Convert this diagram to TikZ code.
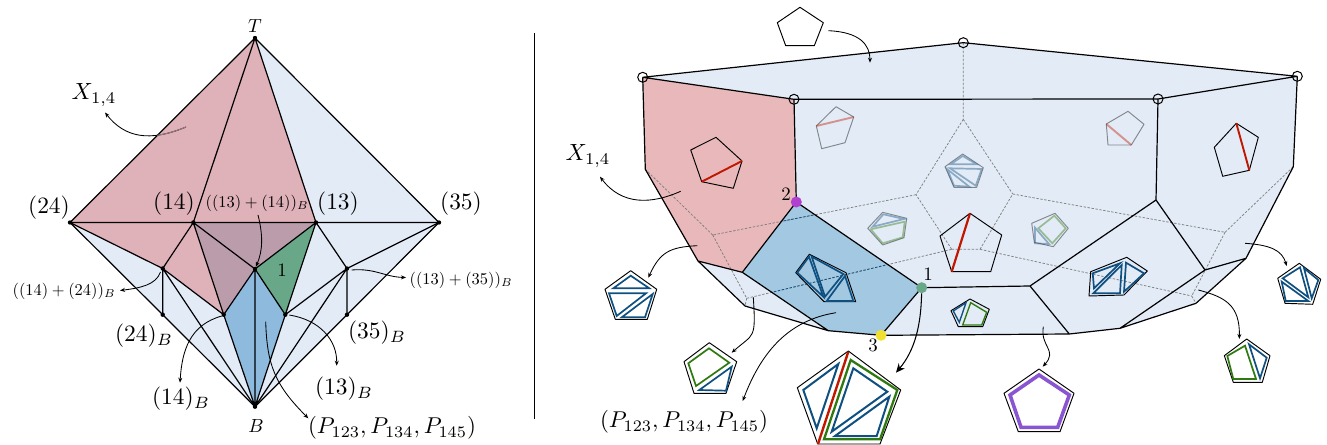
\documentclass[tikz,border=0pt]{standalone}
\usetikzlibrary{arrows.meta}
\definecolor{paleb}{HTML}{E3EBF6}
\definecolor{pinkL}{HTML}{DFB1B8}
\definecolor{mauve}{HTML}{BB9CAB}
\definecolor{greenL}{HTML}{68A888}
\definecolor{blueL}{HTML}{8DBADD}
\definecolor{pinkR}{HTML}{E9B8BA}
\definecolor{blueR}{HTML}{A3C8E2}
\definecolor{tblue}{HTML}{0F5080}
\definecolor{tgreen}{HTML}{2F7A10}
\definecolor{tred}{HTML}{C01800}
\definecolor{tpurp}{HTML}{8A55D0}
\definecolor{dotp}{HTML}{B040D0}
\definecolor{doty}{HTML}{F0E030}
\tikzset{
  edge/.style={line width=1.2bp,black,line join=round},
  back/.style={line width=0.75bp,dashed,dash pattern=on 2.4bp off 1.6bp,black!50},
  dot/.style={circle,fill=black,inner sep=0pt,minimum size=4.4bp},
  ring/.style={circle,draw=black,line width=1bp,fill=none,inner sep=0pt,minimum size=10bp},
  cdot/.style={circle,inner sep=0pt,minimum size=11bp},
  lab/.style={inner sep=0pt,scale=2.35},
  labp/.style={inner sep=0pt,scale=2.3},
  labm/.style={inner sep=0pt,scale=1.65},
  labs/.style={inner sep=0pt,scale=1.9},
  callout/.style={line width=0.85bp,-{Stealth[length=5bp,width=4bp]}},
  bigcall/.style={line width=1.05bp,-{Stealth[length=9bp,width=8bp]}},
  pent/.style={draw=black,line width=0.95bp,line join=round},
  tb/.style={draw=tblue,line width=1.7bp,line join=miter},
  tg/.style={draw=tgreen,line width=1.7bp,line join=miter},
  tr/.style={draw=tred,line width=1.9bp}
}
\begin{document}
\begin{tikzpicture}[x=1bp,y=-1bp]
\useasboundingbox (0,0) rectangle (1327,445);
% ---------- left diagram
\coordinate (T) at (255,38);
\coordinate (A) at (70,222.5);
\coordinate (C) at (193.3,222.5);
\coordinate (D) at (316,222.5);
\coordinate (E) at (439,222.5);
\coordinate (F) at (162.7,268.5);
\coordinate (G) at (255,269);
\coordinate (H) at (347,268.5);
\coordinate (I) at (162.7,314.7);
\coordinate (J) at (223.7,314.7);
\coordinate (K) at (285.3,314.7);
\coordinate (L) at (347,314.7);
\coordinate (B) at (255,406.7);
\fill[paleb] (T)--(A)--(I)--(B)--(L)--(E)--cycle;
\fill[pinkL] (T)--(A)--(F)--(J)--(G)--(D)--cycle;
\fill[mauve] (C)--(D)--(G)--(J)--cycle;
\fill[greenL] (D)--(G)--(K)--cycle;
\fill[blueL] (G)--(J)--(B)--(K)--cycle;
\draw[edge] (T)--(A) (T)--(C) (T)--(D) (T)--(E) (A)--(E) (A)--(I) (I)--(B) (E)--(L) (L)--(B);
\draw[edge] (A)--(F) (F)--(J) (C)--(F) (C)--(J) (C)--(G) (D)--(G) (G)--(J) (G)--(K) (D)--(K) (D)--(H) (H)--(E) (H)--(K) (H)--(L) (F)--(I) (F)--(B) (H)--(B) (J)--(B) (K)--(B) (G)--(B);
\foreach \p in {T,A,C,D,E,F,G,H,I,J,K,L,B} \node[dot] (d\p) at (\p) {};
% left labels
\node[labs] (lT) at (255,26) {$T$};
\node[labs] (lB) at (256,426) {$B$};
\node[lab] (l24) at (49,208) {$(24)$};
\node[lab] (l14) at (174,204) {$(14)$};
\node[lab] (l13) at (338,204) {$(13)$};
\node[lab] (l35) at (461,204) {$(35)$};
\node[labm] (l1314) at (257,203) {$((13)+(14))_B$};
\node[labm] (l1424) at (64,291) {$((14)+(24))_B$};
\node[labm] (l1335) at (461,280) {$((13)+(35))_B$};
\node[labs] (lone) at (282,270) {$1$};
\node[lab] (l24b) at (144,336) {$(24)_B$};
\node[lab] (l35b) at (377,333) {$(35)_B$};
\node[lab] (l13b) at (344,389) {$(13)_B$};
\node[lab] (l14b) at (181,399) {$(14)_B$};
\node[labp] (lP) at (392,428) {$(P_{123},P_{134},P_{145})$};
\node[lab] (lX) at (94,95) {$X_{1,4}$};
% left callouts
\coordinate (xs) at (186,127); \coordinate (xe) at (105,112.5);
\draw[callout] (xs) .. controls (150,142) and (125,138) .. (xe);
\begin{scope}
\clip (T)--(A)--(F)--(J)--(G)--(D)--cycle;
\draw[line width=0.95bp,pinkL!70!black] (xs) .. controls (150,142) and (125,138) .. (xe);
\end{scope}
\coordinate (a1) at (258,215);
\draw[callout] (a1) .. controls (263,235) and (263,250) .. (dG);
\coordinate (a2s) at (160.5,272); \coordinate (a2e) at (120,290.5);
\draw[callout] (a2s) .. controls (156,285) and (140,288) .. (a2e);
\coordinate (a3s) at (351.7,270); \coordinate (a3e) at (406,277.5);
\draw[callout] (a3s) .. controls (375,268) and (385,277) .. (a3e);
\coordinate (a4s) at (221.7,316); \coordinate (a4e) at (180,382.7);
\draw[callout] (a4s) .. controls (190,325) and (182,350) .. (a4e);
\coordinate (a5s) at (289.3,315); \coordinate (a5e) at (336.7,365.7);
\draw[callout] (a5s) .. controls (320,320) and (337,340) .. (a5e);
\coordinate (a6s) at (265.7,321.7); \coordinate (a6e) at (308.3,418.3);
\draw[callout] (a6s) .. controls (267,365) and (275,385) .. (a6e);
% separator
\coordinate (s1) at (534,33); \coordinate (s2) at (534,419);
\draw[line width=1bp] (s1)--(s2);
% ---------- right polytope
\coordinate (a) at (642.7,77.3);
\coordinate (b) at (794,99.3);
\coordinate (t) at (963.3,42.7);
\coordinate (c) at (1158,99);
\coordinate (d) at (1297.3,76.3);
\coordinate (e) at (645.3,169.3);
\coordinate (f) at (698,261);
\coordinate (g) at (742.3,272.3);
\coordinate (h) at (745,306);
\coordinate (i) at (828.3,330.7);
\coordinate (y) at (881,335.3);
\coordinate (v) at (921.7,287.7);
\coordinate (p) at (796.3,202);
\coordinate (m) at (1030,286);
\coordinate (n) at (1069.3,334);
\coordinate (o) at (1120,328.3);
\coordinate (q) at (1196,303.3);
\coordinate (r) at (1246,258.3);
\coordinate (u) at (1205,270);
\coordinate (w) at (1156,200);
\coordinate (z) at (1293.3,166.7);
\coordinate (k1) at (963.3,119.3);
\coordinate (k2) at (1012.7,194);
\coordinate (k3) at (980,249.3);
\coordinate (k4) at (951.7,249.3);
\coordinate (k5) at (916,194.7);
\coordinate (k6) at (712.7,235);
\coordinate (k7) at (746.7,298.3);
\coordinate (k8) at (1225,232.3);
\coordinate (k9) at (1191.7,296);
\fill[paleb] (a)--(t)--(d)--(z)--(r)--(q)--(o)--(n)--(y)--(i)--(h)--(f)--(e)--cycle;
\fill[pinkR] (a)--(b)--(p)--(g)--(f)--(e)--cycle;
\fill[blueR] (p)--(v)--(y)--(i)--(g)--cycle;
\draw[back] (t)--(k1) (k1)--(k2) (k1)--(k5) (k5)--(k6) (k6)--(e) (k6)--(k7) (k7)--(k4) (k7)--(h) (k4)--(k5) (k4)--(k3) (k3)--(k2) (k2)--(k8) (k8)--(z) (k8)--(k9) (k3)--(k9) (k9)--(q);
\begin{scope}
\clip (p)--(v)--(y)--(i)--(g)--cycle;
\draw[back,draw=tblue] (k6)--(k5) (k7)--(k4);
\end{scope}
\draw[edge] (a)--(t) (t)--(d) (a)--(b) (b)--(c) (c)--(d) (a)--(e) (e)--(f) (b)--(p) (c)--(w) (d)--(z) (z)--(r)
 (f)--(g) (f)--(h) (h)--(i) (i)--(g) (g)--(p) (p)--(v) (v)--(y) (y)--(i) (y)--(n) (v)--(m) (m)--(n) (n)--(o) (o)--(q) (q)--(r) (r)--(u) (u)--(o) (u)--(w) (w)--(m);
\foreach \p in {a,b,t,c,d} \node[ring] (r\p) at (\p) {};
\node[cdot,fill=greenL] (nv) at (v) {};
\node[cdot,fill=doty] (ny) at (y) {};
\node[cdot,fill=dotp] (np) at (p) {};
\node[labs] (n1) at (928,274) {$1$};
\node[labs] (n2) at (786,194) {$2$};
\node[labs] (n3) at (873,345) {$3$};
\node[lab] (rX) at (588,156) {$X_{1,4}$};
\node[labp] (rP) at (684,422) {$(P_{123},P_{134},P_{145})$};
% ---------- thumbnails
\draw[pent] (800,7.3)--(823.3,22.7)--(814.3,45.7)--(785.7,45.7)--(777.3,22.7)--cycle;
\draw[pent] (716,137.3)--(742,161)--(733.3,188.3)--(701.7,181.7)--(690.7,150)--cycle;
\draw[tr] (742,161)--(701.7,181.7);
\draw[pent] (1236.3,123.3)--(1258.3,137.3)--(1249.3,170.3)--(1222.7,176.3)--(1214.3,147.3)--cycle;
\draw[tr] (1236.3,123.3)--(1249.3,170.3);
\draw[pent] (970,213.3)--(1001.7,235)--(990.7,271.7)--(951.7,271.7)--(940,236)--cycle;
\draw[tr,line width=2.2bp] (970,213.3)--(951.7,271.7);
\begin{scope}[opacity=0.42]
\draw[pent] (836,106.7)--(853.7,117)--(845,142.7)--(821.7,148.7)--(816.3,126)--cycle;
\draw[tr] (853.7,117)--(816.3,126);
\draw[pent] (1128,111.3)--(1144,124.3)--(1131.3,145)--(1108,145)--(1106.3,124)--cycle;
\draw[tr] (1106.3,124)--(1131.3,145);
\draw[pent] (962.7,154)--(983.3,167.7)--(976.7,187.3)--(954,187.3)--(945,166.7)--cycle;
\draw[tb] (962.7,156)--(976.7,164.3)--(950.7,164.3)--cycle;
\draw[tb] (981.7,169)--(975.7,185.7)--(950,168.3)--cycle;
\draw[tb] (947.3,169.3)--(969.3,186.7)--(954,185.7)--cycle;
\draw[pent] (882.7,212.3)--(906.7,218.3)--(904,237.7)--(882.7,245)--(867.7,228.3)--cycle;
\draw[tb] (883.3,214.3)--(904,219)--(872.7,226.7)--cycle;
\draw[tg] (904.7,221.7)--(902.7,237.3)--(882.7,243.3)--(870.7,229.3)--cycle;
\draw[pent] (1055,213.3)--(1068.3,228.3)--(1053.3,246.7)--(1034.3,242.3)--(1031.7,223.3)--cycle;
\draw[tg] (1054.3,215.7)--(1065.7,228.3)--(1052.3,243.3)--(1038.3,228.3)--cycle;
\draw[tb] (1035,227.7)--(1049,244)--(1035,243.3)--cycle;
\end{scope}
% thumbnail in blue face
\draw[pent] (809.3,254.3)--(846,272.7)--(855.7,301.7)--(824,301.7)--(795.7,272.7)--cycle;
\draw[tb] (809,256.7)--(797.3,272.7)--(823.3,296.7)--cycle;
\draw[tb] (811.7,256.7)--(843.3,274)--(825,296.7)--cycle;
\draw[tb] (845,276)--(853.3,301)--(826.7,301)--cycle;
% left thumb
\draw[pent] (630.7,270.7)--(656.7,289.3)--(647.3,319.3)--(615.3,319.3)--(605,289.3)--cycle;
\draw[tb] (630.7,275.7)--(649.3,288.3)--(613.3,288.3)--cycle;
\draw[tb] (646,293.3)--(616.7,316)--(609,293.3)--cycle;
\draw[tb] (652.7,294)--(645,317.3)--(621.7,317.3)--cycle;
% green thumb
\draw[pent] (709.3,342.7)--(736.7,361.7)--(726,393.3)--(694,393.3)--(684,361.7)--cycle;
\draw[tg] (709,348.3)--(729.3,362.7)--(696,386)--(688.3,363.3)--cycle;
\draw[tb] (731.7,366.7)--(726,390.7)--(699.3,390)--cycle;
% large thumb
\draw[pent] (848.3,351)--(900.7,390)--(880,444)--(817.7,444)--(797.3,387.7)--cycle;
\draw[tb,line width=2bp] (838.3,364)--(803.3,390)--(816.7,428.3)--cycle;
\draw[tg,line width=2.3bp] (850.7,360)--(897.3,390)--(880,439.3)--(824,439.3)--cycle;
\draw[tb,line width=2bp] (853.3,368.3)--(887.3,391.7)--(831.7,431.7)--cycle;
\draw[tb,line width=2bp] (889.3,396.7)--(876.7,436)--(835,436)--cycle;
\draw[tr,line width=2.4bp] (848.3,351.7)--(818,444);
% purple
\draw[pent] (1039,369)--(1074,393.3)--(1060,431.7)--(1018.3,431.7)--(1004,393.3)--cycle;
\draw[draw=tpurp,line width=3.6bp,line join=miter] (1039,375)--(1069.3,395)--(1057.7,427.3)--(1021,427.3)--(1010,395)--cycle;
% bottom small
\draw[pent] (970,299)--(989.3,309.3)--(982.7,326.7)--(958.3,326.7)--(951,310.7)--cycle;
\draw[tb,line width=1.35bp] (966,302.7)--(959.3,322.3)--(953.3,311)--cycle;
\draw[tg,line width=1.35bp] (970.7,302.7)--(986.7,312.3)--(981.7,325)--(962.7,325)--cycle;
% middle right blue
\draw[pent] (1126.7,257.3)--(1147.3,271)--(1124,295)--(1089,296)--(1090.7,271.7)--cycle;
\draw[tb] (1120,263.3)--(1092.7,273.3)--(1094,288.3)--cycle;
\draw[tb] (1121.7,265)--(1120,293.3)--(1093.3,293.3)--cycle;
\draw[tb] (1126,262.7)--(1144,273.3)--(1124,291.7)--cycle;
% right green
\draw[pent] (1246.7,339)--(1270,355.7)--(1262.3,382.3)--(1233.3,382.3)--(1224.3,355.7)--cycle;
\draw[tg] (1245,345.7)--(1256,379)--(1233.3,379)--(1227.3,356)--cycle;
\draw[tb] (1249,344.3)--(1266.7,357.7)--(1260,378.3)--cycle;
% right blue
\draw[pent] (1299.3,263.3)--(1320.7,279.3)--(1312.7,304.3)--(1285,303.3)--(1277.7,278.3)--cycle;
\draw[tb] (1300,267.3)--(1308.3,297.3)--(1282.7,278.3)--cycle;
\draw[tb] (1304,268.3)--(1318.3,280)--(1311.7,298.3)--cycle;
\draw[tb] (1281.7,281.7)--(1308.3,301)--(1285.7,301)--cycle;
% right callouts
\coordinate (b1s) at (828.3,30.7); \coordinate (b1e) at (870,62.7);
\draw[callout] (b1s) .. controls (860,32) and (870,45) .. (b1e);
\coordinate (b2s) at (680.7,191.3); \coordinate (b2e) at (600,176.7);
\draw[callout] (b2s) .. controls (652,204) and (622,206) .. (b2e);
\coordinate (b3s) at (697.3,245.7); \coordinate (b3e) at (648.3,277.7);
\draw[callout] (b3s) .. controls (670,247) and (660,252) .. (b3e);
\coordinate (b4s) at (753.3,297.3); \coordinate (b4e) at (731.7,352.7);
\draw[callout] (b4s) .. controls (756,340) and (754,333) .. (b4e);
\coordinate (b5s) at (836,312.7); \coordinate (b5e) at (742.7,401);
\draw[callout] (b5s) .. controls (790,320) and (762,350) .. (b5e);
\draw[bigcall] (nv) .. controls (921,325) and (915,350) .. (896,372.7);
\coordinate (b7s) at (1043.3,326.7); \coordinate (b7e) at (1042.7,366.7);
\draw[callout] (b7s) .. controls (1040,347) and (1058,350) .. (b7e);
\coordinate (b8s) at (1198.3,290); \coordinate (b8e) at (1239.3,339);
\draw[callout] (b8s) .. controls (1225,297) and (1240,305) .. (b8e);
\coordinate (b9s) at (1245,243.3); \coordinate (b9e) at (1286.7,266);
\draw[callout] (b9s) .. controls (1270,245) and (1282,250) .. (b9e);
\end{tikzpicture}
\end{document}
